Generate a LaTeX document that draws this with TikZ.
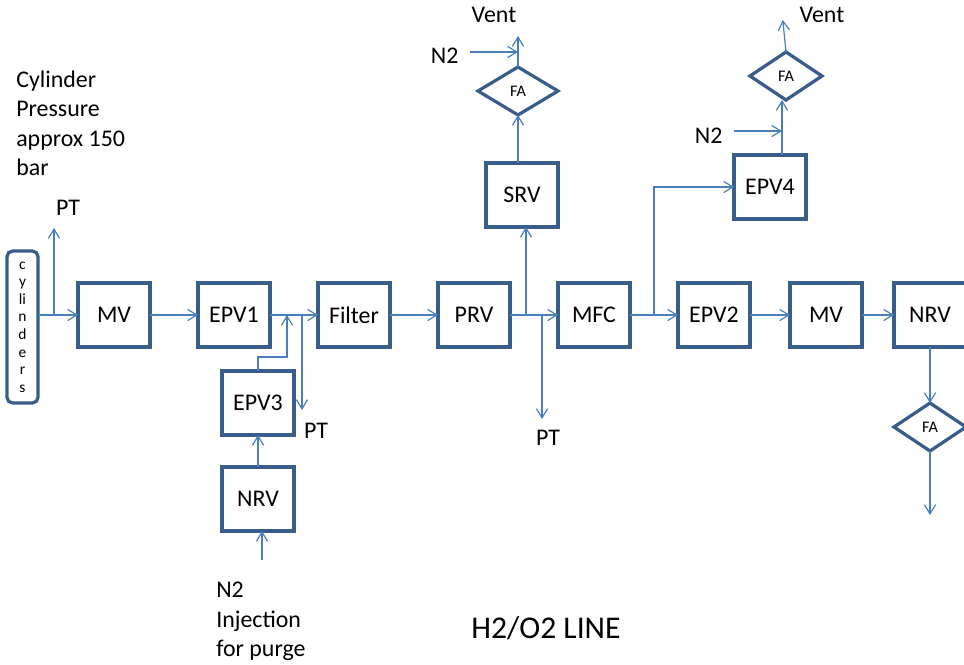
\documentclass[tikz,border=0pt]{standalone}
\usepackage{fontspec}
\setmainfont{Carlito}
\usetikzlibrary{shapes.geometric, arrows.meta, positioning, calc}
\definecolor{cBox}{RGB}{56,93,138}
\definecolor{cLine}{RGB}{74,126,187}
\tikzset{
	unit/.style     ={rectangle, minimum width=1.8cm, minimum height=1.6cm, outer sep=0pt, align=center, draw=cBox, line width=2.3pt, font=\fontsize{17}{20}\selectfont},
	arrester/.style ={diamond, aspect=1.5, minimum width=1.8cm, minimum height=1.2cm, inner sep=0pt, outer sep=0pt, draw=cBox, line width=2.3pt, font=\fontsize{11.5}{13}\selectfont},
	bank/.style     ={rectangle, rounded corners=4pt, minimum width=0.775cm, minimum height=3.8cm, outer sep=0pt, align=center, draw=cBox, line width=2.3pt, font=\fontsize{11}{12.5}\selectfont},
	pipe/.style     ={-{Straight Barb[length=2.3mm, width=2.8mm]}, draw=cLine, line width=0.85pt},
	tag/.style      ={inner sep=0pt, align=left, font=\fontsize{17}{20.8}\selectfont},
}
\begin{document}
\begin{tikzpicture}[node distance=1.2cm]
	\path[use as bounding box] (0,0) rectangle (24.1,-16.625);
	% main line
	\node[unit] (mva) at (2.85,-7.875) {MV};
	\node[bank, left=1cm of mva, yshift=-0.3cm] (cyl) {c\\y\\li\\n\\d\\e\\r\\s};
	\node[unit, right=of mva] (epvone) {EPV1};
	\node[unit, right=of epvone] (filter) {Filter};
	\node[unit, right=of filter] (prv) {PRV};
	\node[unit, right=of prv] (mfc) {MFC};
	\node[unit, right=of mfc] (epvtwo) {EPV2};
	\node[unit, right=1cm of epvtwo] (mvb) {MV};
	\node[unit, right=0.8cm of mvb] (nrva) {NRV};
	% purge branch
	\node[unit, below=0.6cm of epvone, xshift=0.6cm] (epvthree) {EPV3};
	\node[unit, below=0.8cm of epvthree] (nrvb) {NRV};
	% upper branches
	\node[unit, above=1.4cm of prv, xshift=1.2cm] (srv) {SRV};
	\node[arrester, minimum width=2cm, aspect=1.667, above=1.2cm of srv, xshift=-0.1cm] (faa) {FA};
	\node[unit, above=1.6cm of epvtwo, xshift=1.4cm] (epvfour) {EPV4};
	\node[arrester, above=1.375cm of epvfour, xshift=0.4cm] (fab) {FA};
	\node[arrester, below=1.4cm of nrva] (fac) {FA};
	% junctions and free ends
	\coordinate (jpta) at ($(mva.west)+(-0.6,0)$);
	\coordinate (ptatop) at ($(jpta)+(0,2.175)$);
	\coordinate (jinj) at ($(epvone.east)+(0.425,0)$);
	\coordinate (jptb) at ($(epvone.east)+(0.8,0)$);
	\coordinate (ptbend) at ($(jptb)+(0,-2.375)$);
	\coordinate (jsrv) at ($(prv.east)+(0.4,0)$);
	\coordinate (jptc) at ($(prv.east)+(0.8,0)$);
	\coordinate (ptcend) at ($(jptc)+(0,-2.6)$);
	\coordinate (jepv) at ($(mfc.east)+(0.6,0)$);
	\coordinate (ninj) at ($(nrvb.south)+(0.1,-0.725)$);
	\coordinate (srvout) at (faa.south |- srv.north);
	\coordinate (venta) at ($(faa.north)+(0,0.775)$);
	\coordinate (ntwoa) at ($(faa.north)+(-1.2,0.375)$);
	\coordinate (epvout) at ($(epvfour.north)+(0.3,0)$);
	\coordinate (ventb) at ($(fab.north)+(-0.08,0.8)$);
	\coordinate (ntwob) at ($(epvout)+(-1.2,0.6)$);
	\coordinate (drain) at ($(fac.south)+(0,-1.6)$);
	% connectors
	\draw[pipe] (cyl.east |- mva.west) -- (mva);
	\draw[pipe] (jpta) -- (ptatop);
	\draw[pipe] (mva) -- (epvone);
	\draw[pipe] (epvone) -- (filter);
	\draw[pipe] (filter) -- (prv);
	\draw[pipe] (prv) -- (mfc);
	\draw[pipe] (mfc) -- (epvtwo);
	\draw[pipe] (epvtwo) -- (mvb);
	\draw[pipe] (mvb) -- (nrva);
	\draw[pipe] (nrvb) -- (epvthree);
	\draw[pipe] (ninj) -- (ninj |- nrvb.south);
	\draw[pipe] (epvthree.north) -- ++(0,0.35) -| (jinj);
	\draw[pipe] (jptb) -- (ptbend);
	\draw[pipe] (jsrv) -- (jsrv |- srv.south);
	\draw[pipe] (jptc) -- (ptcend);
	\draw[pipe] (jepv) |- (epvfour.west);
	\draw[pipe] (srvout) -- (faa.south);
	\draw[pipe] (faa.north) -- (venta);
	\draw[pipe] (ntwoa) -- (ntwoa -| faa.north);
	\draw[pipe] (epvout) -- (epvout |- fab.south);
	\draw[pipe] (ntwob) -- (ntwob -| epvout);
	\draw[pipe] (fab.north) -- (ventb);
	\draw[pipe] (nrva) -- (fac);
	\draw[pipe] (fac) -- (drain);
	% labels
	\node[tag, anchor=north west] (press) at (0.4,-1.77) {Cylinder\\Pressure\\approx 150\\bar};
	\node[tag] (ptalbl) at ($(ptatop)+(0.35,0.5)$) {PT};
	\node[tag] (ptblbl) at ($(ptbend)+(0.35,-0.525)$) {PT};
	\node[tag] (ptclbl) at ($(ptcend)+(0.15,-0.475)$) {PT};
	\node[tag] (ventalbl) at (12.35,-0.375) {Vent};
	\node[tag] (ventblbl) at (20.55,-0.375) {Vent};
	\node[tag, left=0.28cm of ntwoa, yshift=-0.1cm] (ntwoalbl) {N2};
	\node[tag, left=0.28cm of ntwob, yshift=-0.12cm] (ntwoblbl) {N2};
	\node[tag, anchor=north west] (injlbl) at (5.4,-14.55) {N2\\Injection\\for purge};
	\node[tag, font=\fontsize{22.5}{26}\selectfont] (title) at (13.65,-15.7) {H2/O2 LINE};
\end{tikzpicture}
\end{document}
